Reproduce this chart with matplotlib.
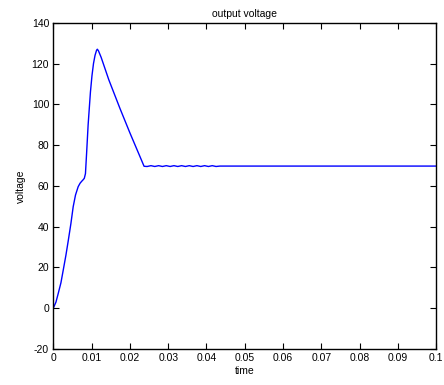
import matplotlib
matplotlib.use("Agg")
import matplotlib.pyplot as plt

# output voltage trace
t = [0.0, 0.0007, 0.0013, 0.002, 0.0026, 0.0033, 0.0039, 0.0046, 0.0052, 0.0058,
     0.0065, 0.0070, 0.0074, 0.0078, 0.0081, 0.0084, 0.0087, 0.0091, 0.0094,
     0.0097, 0.0101, 0.0105, 0.0109, 0.0113, 0.0115, 0.0118, 0.0125, 0.0145,
     0.0174, 0.0200, 0.0226, 0.0237,
     0.0245, 0.0255, 0.0265, 0.0275, 0.0285, 0.0295, 0.0305, 0.0315, 0.0325,
     0.0335, 0.0345, 0.0355, 0.0365, 0.0375, 0.0385, 0.0395, 0.0405, 0.0415,
     0.0425, 0.0435, 0.06, 0.08, 0.1]
v = [0.0, 3.0, 7.3, 12.5, 18.7, 26.0, 33.0, 41.5, 49.8, 55.5,
     59.6, 61.3, 62.2, 63.0, 63.7, 66.0, 76.0, 90.0, 98.0,
     106.0, 114.0, 120.0, 124.0, 126.5, 127.0, 126.2, 123.0, 112.0,
     98.0, 86.0, 74.5, 69.6,
     69.5, 69.9, 69.5, 69.9, 69.5, 69.9, 69.5, 69.9, 69.5,
     69.9, 69.5, 69.9, 69.5, 69.9, 69.5, 69.9, 69.5, 69.9,
     69.5, 69.7, 69.7, 69.7, 69.7]

xticks = [0, 0.01, 0.02, 0.03, 0.04, 0.05, 0.06, 0.07, 0.08, 0.09, 0.1]
xticklabels = ["0", "0.01", "0.02", "0.03", "0.04", "0.05", "0.06", "0.07", "0.08", "0.09", "0.1"]
yticks = [-20, 0, 20, 40, 60, 80, 100, 120, 140]

plt.rcParams["font.family"] = ["Liberation Sans", "DejaVu Sans"]
plt.rcParams["font.size"] = 7.5
plt.rcParams["axes.unicode_minus"] = False

fig = plt.figure(figsize=(4.44, 3.85), dpi=100)
ax = fig.add_axes([0.12, 0.0935, 0.8627, 0.8475])
ax.plot(t, v, color="#0000ff", linewidth=1.0)

ax.set_xlim(0, 0.1)
ax.set_ylim(-20, 140)
ax.set_xticks(xticks)
ax.set_xticklabels(xticklabels)
ax.set_yticks(yticks)
ax.tick_params(direction="in", top=True, right=True, length=4, width=0.8, pad=3)
for s in ax.spines.values():
    s.set_linewidth(1.0)

ax.set_title("output voltage", fontsize=7.5, pad=4)
ax.set_xlabel("time", labelpad=2)
ax.set_ylabel("voltage", labelpad=4)

fig.savefig("out.png", dpi=100)
